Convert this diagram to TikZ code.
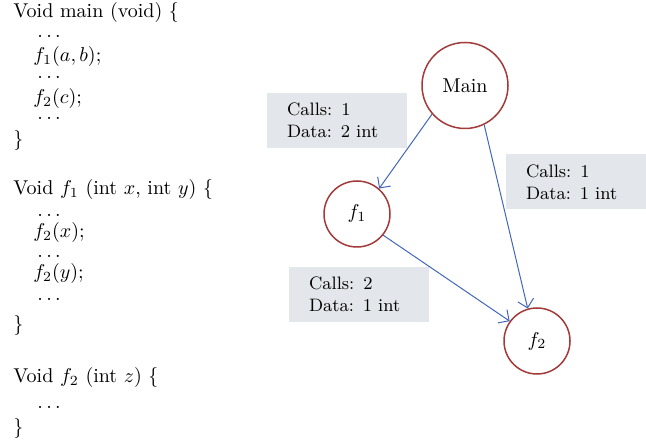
\documentclass[tikz,border=0pt]{standalone}
\usetikzlibrary{arrows.meta}

\definecolor{nodered}{HTML}{A33A3A}
\definecolor{callblue}{HTML}{4267B8}
\definecolor{boxgray}{HTML}{E3E6EA}

\begin{document}
\begin{tikzpicture}[x=0.5pt, y=-0.5pt,
    func/.style={circle, draw=nodered, line width=0.75pt, inner sep=0pt, minimum size=33pt},
    info/.style={fill=boxgray, font=\small, align=left, text width=50pt, inner xsep=10pt, inner ysep=0pt, minimum height=27.5pt},
    call/.style={-{Straight Barb[length=4pt,width=8pt]}, callblue, line width=0.5pt},
    code/.style={anchor=base west, inner sep=0pt}]

    \useasboundingbox (0,0) rectangle (646,442);

    % Left margins of the listing
    \def\xa{13}
    \def\xb{33}
    \def\xc{37}

    % Code listing
    \node[code] (mainhead) at (\xa,18) {Void main (void) \{};
    \node[code] (callfa) at (\xb,62) {$f_1(a,b)$;};
    \node[code] (callfb) at (\xb,104) {$f_2(c)$;};
    \node[code] (mainend) at (\xa,146) {\}};

    \node[code] (fahead) at (\xa,195) {Void $f_1$ (int $x$, int $y$) \{};
    \node[code] (callx) at (\xb,238) {$f_2(x)$;};
    \node[code] (cally) at (\xb,279) {$f_2(y)$;};
    \node[code] (faend) at (\xa,330) {\}};

    \node[code] (fbhead) at (\xa,382) {Void $f_2$ (int $z$) \{};
    \node[code] (fbend) at (\xa,433) {\}};

    % Elided statements
    \foreach \y [count=\i] in {38,79,120,217,258,301,408}
        \node[code] (dots\i) at (\xc,\y) {$\ldots$};

    % Call graph
    \node[func, minimum size=43pt] (main) at (465,85.5) {Main};
    \node[func] (f1) at (357,214) {$f_1$};
    \node[func] (f2) at (537,341) {$f_2$};

    % Edge labels
    \node[info] (box1) at (337,120.5) {Calls: 1\\Data: 2 int};
    \node[info] (box2) at (576,182) {Calls: 1\\Data: 1 int};
    \node[info] (box3) at (359,294.5) {Calls: 2\\Data: 1 int};

    % Calls
    \draw[call] (main.221) -- (f1.49);
    \draw[call] (main.296) -- (f2.106);
    \draw[call] (f1.321) -- (f2.144);

\end{tikzpicture}
\end{document}
